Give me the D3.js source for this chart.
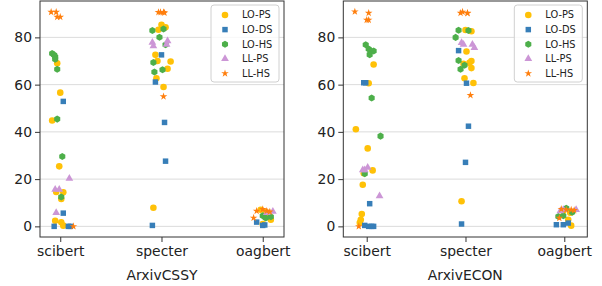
<!DOCTYPE html>
<html>
<head>
<meta charset="utf-8">
<script src="https://cdn.jsdelivr.net/npm/d3@7"></script>
<style>
  body { margin: 0; background: #fff; }
  svg { display: block; font-family: "DejaVu Sans", sans-serif; }
</style>
</head>
<body>
<svg id="chart" width="602" height="286"></svg>
<script>
var models = ['scibert', 'specter', 'oagbert'];
var seriesNames = ['LO-PS', 'LO-DS', 'LO-HS', 'LL-PS', 'LL-HS'];
var yTicks = [0, 20, 40, 60, 80];

// ArxivCSSY: values per model, and strip jitter (category units)
var cssyLOPS = [[69.0, 56.6, 44.8, 25.4, 14.6, 14.4, 11.6, 2.4, 1.7, 0.3],
                [85.3, 84.3, 83.2, 72.6, 70.0, 69.8, 66.7, 62.7, 59.0, 7.9],
                [7.0, 6.2, 5.0, 2.8, 1.0]];
var cssyLOPSJit = [[-0.03, 0, -0.08, -0.01, -0.04, 0.03, 0.01, -0.05, 0.01, 0.03],
                   [0, 0.04, -0.03, -0.06, -0.04, 0.09, 0.06, -0.05, 0.02, -0.08],
                   [-0.02, 0.03, 0.05, 0.08, 0.0]];
var cssyLODS = [[52.9, 5.6, 0.0, 0.0, 0.0],
                [72.6, 61.1, 44.0, 27.6, 0.4],
                [1.8, 0.4, 0.6]];
var cssyLODSJit = [[0.03, 0.03, -0.06, 0.08, 0.10],
                   [0, -0.06, 0.03, 0.04, -0.09],
                   [-0.06, 0.0, 0.02]];
var cssyLOHS = [[73.2, 72.5, 71.8, 70.7, 66.5, 45.4, 29.6, 12.4],
                [82.9, 83.5, 80.1, 76.9, 69.4, 65.3, 66.3],
                [4.5, 4.1, 3.5]];
var cssyLOHSJit = [[-0.08, -0.06, -0.05, -0.05, -0.03, -0.03, 0.02, 0.01],
                   [-0.09, 0.02, -0.02, 0.04, -0.08, -0.07, 0.01],
                   [0.0, 0.08, 0.03]];
var cssyLLPS = [[20.3, 15.6, 15.6, 5.8],
                [77.8, 76.3, 78.5, 77.0],
                [6.3, 5.8]];
var cssyLLPSJit = [[0.09, -0.05, -0.01, -0.04],
                   [-0.09, -0.08, 0.06, 0.05],
                   [0.1, 0.04]];
var cssyLLHS = [[90.7, 90.7, 88.6, 88.6, 0.0],
                [90.6, 90.6, 90.6, 90.4, 55.0],
                [6.5, 7.2, 6.5, 3.6, 6.2]];
var cssyLLHSJit = [[-0.09, -0.04, -0.03, 0.0, 0.13],
                   [-0.03, -0.01, 0.02, 0.03, 0.02],
                   [-0.06, 0.0, 0.04, -0.09, 0.07]];

// ArxivECON
var econLOPS = [[68.5, 60.6, 41.1, 33.0, 23.7, 22.5, 17.6, 5.2, 2.8, 1.5],
                [83.1, 82.6, 74.0, 68.8, 69.2, 70.0, 67.0, 62.7, 60.7, 10.6],
                [0.3, 2.8, 5.8, 6.5]];
var econLOPSJit = [[0.07, 0.02, -0.11, 0.01, 0.06, -0.03, -0.04, -0.05, -0.06, -0.07],
                   [0, 0.06, 0.01, -0.02, 0.04, 0.06, 0.06, -0.01, 0.08, -0.04],
                   [0.07, 0.04, 0.06, -0.01]];
var econLODS = [[60.8, 60.8, 9.6, 0.4, 0.0, 0.0, 0.0],
                [74.4, 60.6, 42.4, 27.1, 1.0],
                [0.7, 0.7, 1.4]];
var econLODSJit = [[-0.03, -0.01, 0.03, -0.02, 0.02, 0.05, 0.07],
                   [-0.07, 0.01, 0.03, 0, -0.04],
                   [-0.08, -0.01, 0.04]];
var econLOHS = [[76.9, 75.1, 74.2, 74.2, 72.7, 54.3, 38.2, 22.3],
                [83.0, 82.9, 80.0, 70.2, 68.2, 66.5],
                [4.2, 4.5, 7.7, 6.0]];
var econLOHSJit = [[-0.01, 0.02, 0.04, 0.07, 0.03, 0.05, 0.14, -0.02],
                   [-0.07, 0.03, -0.1, -0.07, -0.01, -0.05],
                   [-0.06, -0.01, 0.02, 0.08]];
var econLLPS = [[23.9, 23.9, 24.9, 12.9],
                [77.7, 77.0, 77.0, 75.6],
                [7.0, 7.0, 6.5]];
var econLLPSJit = [[-0.04, -0.02, 0.01, 0.13],
                   [-0.04, -0.02, 0.07, 0.09],
                   [-0.01, 0.12, -0.04]];
var econLLHS = [[90.9, 90.3, 87.4, 87.4, 0.0],
                [90.3, 90.8, 90.3, 90.2, 55.5],
                [3.5, 7.3, 7.0, 7.0, 6.8]];
var econLLHSJit = [[-0.12, 0.02, 0.0, 0.02, -0.08],
                   [-0.05, -0.03, 0.02, 0.02, 0.05],
                   [-0.05, -0.03, 0.02, 0.07, 0.1]];

var colors = {'LO-PS': '#FFC107', 'LO-DS': '#377EB8', 'LO-HS': '#4DAF4A', 'LL-PS': '#CC96D6', 'LL-HS': '#FF7F0E'};

var hexagon = {
  draw: function (ctx, size) {
    var r = Math.sqrt(size / (3 * Math.sqrt(3) / 2));
    for (var i = 0; i < 6; i++) {
      var a = Math.PI / 3 * i - Math.PI / 2;
      if (i) ctx.lineTo(r * Math.cos(a), r * Math.sin(a));
      else ctx.moveTo(r * Math.cos(a), r * Math.sin(a));
    }
    ctx.closePath();
  }
};
var symbols = {
  'LO-PS': d3.symbol(d3.symbolCircle, 34),
  'LO-DS': d3.symbol(d3.symbolSquare, 30),
  'LO-HS': d3.symbol(hexagon, 32),
  'LL-PS': d3.symbol(d3.symbolTriangle, 26),
  'LL-HS': d3.symbol(d3.symbolStar, 18)
};

var panels = [
  {name: 'ArxivCSSY', xlim: [-0.2, 2.21], range: [40, 284],
   data: [[cssyLOPS, cssyLOPSJit], [cssyLODS, cssyLODSJit], [cssyLOHS, cssyLOHSJit], [cssyLLPS, cssyLLPSJit], [cssyLLHS, cssyLLHSJit]]},
  {name: 'ArxivECON', xlim: [-0.237, 2.233], range: [343.3, 587.3],
   data: [[econLOPS, econLOPSJit], [econLODS, econLODSJit], [econLOHS, econLOHSJit], [econLLPS, econLLPSJit], [econLLHS, econLLHSJit]]}
];

var svg = d3.select('#chart');
var plotTop = 1, plotBottom = 237;

panels.forEach(function (p) {
  var x = d3.scaleLinear().domain(p.xlim).range(p.range);
  var y = d3.scaleLinear().domain([-4.5, 95.4]).range([plotBottom, plotTop]);
  var g = svg.append('g');

  // grid
  g.selectAll('.grid').data(yTicks).enter().append('line')
    .attr('x1', p.range[0]).attr('x2', p.range[1])
    .attr('y1', function (d) { return y(d); }).attr('y2', function (d) { return y(d); })
    .attr('stroke', '#dcdcdc').attr('stroke-width', 1);

  // points
  p.data.forEach(function (s, si) {
    var name = seriesNames[si];
    var pts = [];
    s[0].forEach(function (vals, mi) {
      vals.forEach(function (v, k) { pts.push({x: mi + s[1][mi][k], v: v}); });
    });
    g.selectAll('.p' + si).data(pts).enter().append('path')
      .attr('d', symbols[name])
      .attr('transform', function (d) { return 'translate(' + x(d.x) + ',' + y(d.v) + ')'; })
      .attr('fill', colors[name]);
  });

  // axes
  var ya = d3.axisLeft(y).tickValues(yTicks).tickSize(5).tickPadding(3);
  var yg = g.append('g').attr('transform', 'translate(' + p.range[0] + ',0)').call(ya);
  var xa = d3.axisBottom(x).tickValues([0, 1, 2]).tickFormat(function (d) { return models[d]; }).tickSize(5).tickPadding(4);
  var xg = g.append('g').attr('transform', 'translate(0,' + plotBottom + ')').call(xa);
  [yg, xg].forEach(function (a) {
    a.select('.domain').remove();
    a.selectAll('text').attr('font-size', '13.9px').attr('fill', '#222').attr('font-family', 'DejaVu Sans');
    a.selectAll('line').attr('stroke', '#333');
  });

  g.append('rect').attr('x', p.range[0]).attr('y', plotTop)
    .attr('width', p.range[1] - p.range[0]).attr('height', plotBottom - plotTop)
    .attr('fill', 'none').attr('stroke', '#333').attr('stroke-width', 1);

  g.append('text').attr('x', (p.range[0] + p.range[1]) / 2).attr('y', 280)
    .attr('text-anchor', 'middle').attr('font-size', '13.9px').attr('fill', '#222')
    .text(p.name);

  // legend
  var lx = p.range[1] - 73, ly = plotTop + 4;
  var lg = g.append('g').attr('transform', 'translate(' + lx + ',' + ly + ')');
  lg.append('rect').attr('width', 68).attr('height', 77).attr('rx', 3)
    .attr('fill', '#fff').attr('fill-opacity', 0.8).attr('stroke', '#d0d0d0');
  seriesNames.forEach(function (name, i) {
    var row = lg.append('g').attr('transform', 'translate(0,' + (10 + i * 14.6) + ')');
    row.append('path').attr('d', symbols[name]).attr('transform', 'translate(14,0)').attr('fill', colors[name]);
    row.append('text').attr('x', 31).attr('dy', '0.35em').attr('font-size', '9.8px').attr('fill', '#222').text(name);
  });
});
</script>
</body>
</html>
